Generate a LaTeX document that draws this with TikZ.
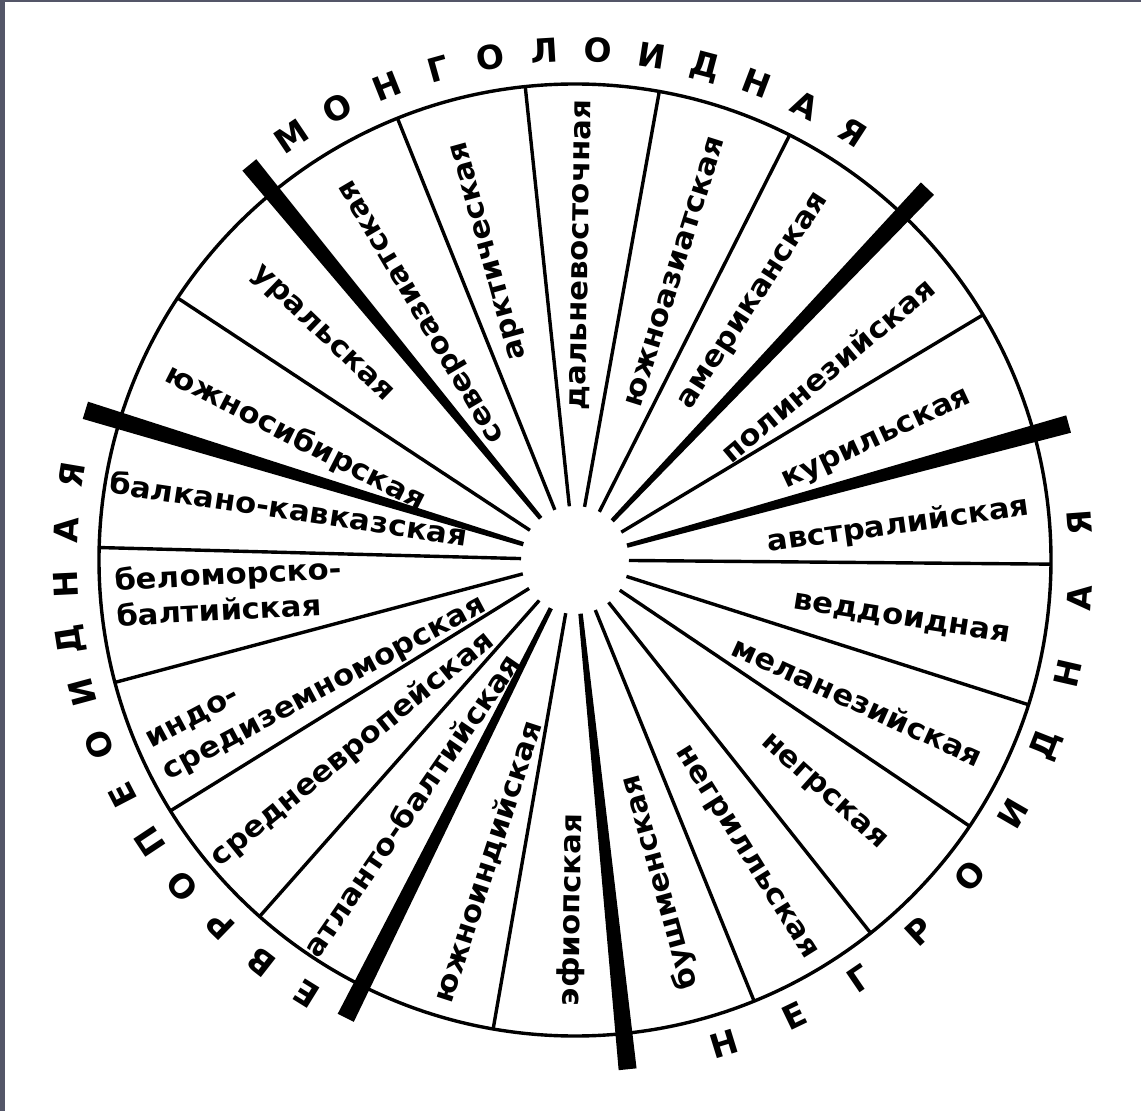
\documentclass[tikz,border=0pt]{standalone}
\usepackage{fontspec}
\setmainfont{DejaVu Sans}
\newfontfamily\labelfont{DejaVu Sans}[FakeStretch=1.06]
\definecolor{framegrey}{RGB}{84,86,104}

\begin{document}
\begin{tikzpicture}[
    x=1pt, y=1pt,
    rim/.style={line width=3.4pt},
    spoke/.style={line width=3.4pt},
    wedge/.style={fill=black},
    sector/.style={
        font=\labelfont\fontsize{29}{36}\selectfont\bfseries,
        inner sep=0pt,
        align=left
    },
    race/.style={font=\fontsize{33}{40}\selectfont\bfseries, inner sep=0pt}
]

% page with its grey frame
\fill[framegrey] (-575,-551) rectangle (566,560);
\fill[white] (-570,-551) rectangle (566,558);
\useasboundingbox (-575,-551) rectangle (566,560);

% rim and thin spokes
\draw[rim] (0,0) circle[radius=476pt];
\foreach \a in {178.5,146.6,111.9,96,79.8,63.2,31,-0.5,-17.7,-34,-51.6,-67.9,-99.9,-131.5,-148.2,-165.1}
    \draw[spoke] (\a:54pt) -- (\a:476pt);

% thick spokes between the races
\foreach \a in {163,129.5,46.5,15.4,-84.1,-116.6}
    \fill[wedge, rotate=\a] (54,-2.2) -- (512,-9) -- (512,9) -- (54,2.2) -- cycle;

% Mongoloid sectors
\node[sector, rotate=120.5] (sevaz) at (121.3:292pt) {североазиатская};
\node[sector, rotate=105.5] (arkt) at (105.3:321pt) {арктическая};
\node[sector, rotate=89] (dalvost) at (88.7:305pt) {дальневосточная};
\node[sector, rotate=72.5] (yuzhaz) at (70.9:305pt) {южноазиатская};
\node[sector, rotate=57] (amer) at (55.1:315pt) {американская};
\node[sector, rotate=-27] (yuzhsib) at (156.4:305pt) {южносибирская};
\node[sector, rotate=-44] (ural) at (138.4:339pt) {уральская};

% Negroid sectors
\node[sector, rotate=40] (polin) at (37:316pt) {полинезийская};
\node[sector, rotate=25] (kuril) at (21.5:325pt) {курильская};
\node[sector, rotate=8] (avstr) at (6.1:325pt) {австралийская};
\node[sector, rotate=-9] (vedd) at (-10.3:332pt) {веддоидная};
\node[sector, rotate=-24.5] (melan) at (-26.5:316pt) {меланезийская};
\node[sector, rotate=-42] (negr) at (-43.2:340pt) {негрская};
\node[sector, rotate=-58] (negrill) at (-59.9:339pt) {негрилльская};
\node[sector, rotate=105.5] (bushm) at (-75.2:333pt) {бушменская};

% Europeoid sectors
\node[sector, rotate=89] (efiop) at (-90.5:350pt) {эфиопская};
\node[sector, rotate=72] (yuzhind) at (254:314pt) {южноиндийская};
\node[sector, rotate=55.5] (atlant) at (236.2:295pt) {атланто-балтийская};
\node[sector, rotate=39] (sredevr) at (220.4:292pt) {среднеевропейская};
\node[sector, rotate=28, anchor=west] (indosred) at (205.6:463pt) {индо-\\средиземноморская};
\node[sector, rotate=3, anchor=west] (belomor) at (184.6:461pt) {беломорско-\\балтийская};
\node[sector, rotate=-8.5] (balkan) at (169.8:291pt) {балкано-кавказская};

% race names round the rim
\foreach \ch [count=\i from 0, evaluate=\i as \ang using 123.8-6.07*\i] in {М,О,Н,Г,О,Л,О,И,Д,Н,А,Я}
    \node[race, rotate=\ang-90] (mong\i) at (\ang:510pt) {\ch};
\foreach \ch [count=\i from 0, evaluate=\i as \ang using -72.9+8.57*\i] in {Н,Е,Г,Р,О,И,Д,Н,А,Я}
    \node[race, rotate=\ang+90] (negro\i) at (\ang:506pt) {\ch};
\foreach \ch [count=\i from 0, evaluate=\i as \ang using 238.2-6.16*\i] in {Е,В,Р,О,П,Е,О,И,Д,Н,А,Я}
    \node[race, rotate=\ang-90] (evro\i) at (\ang:510pt) {\ch};

\end{tikzpicture}
\end{document}
